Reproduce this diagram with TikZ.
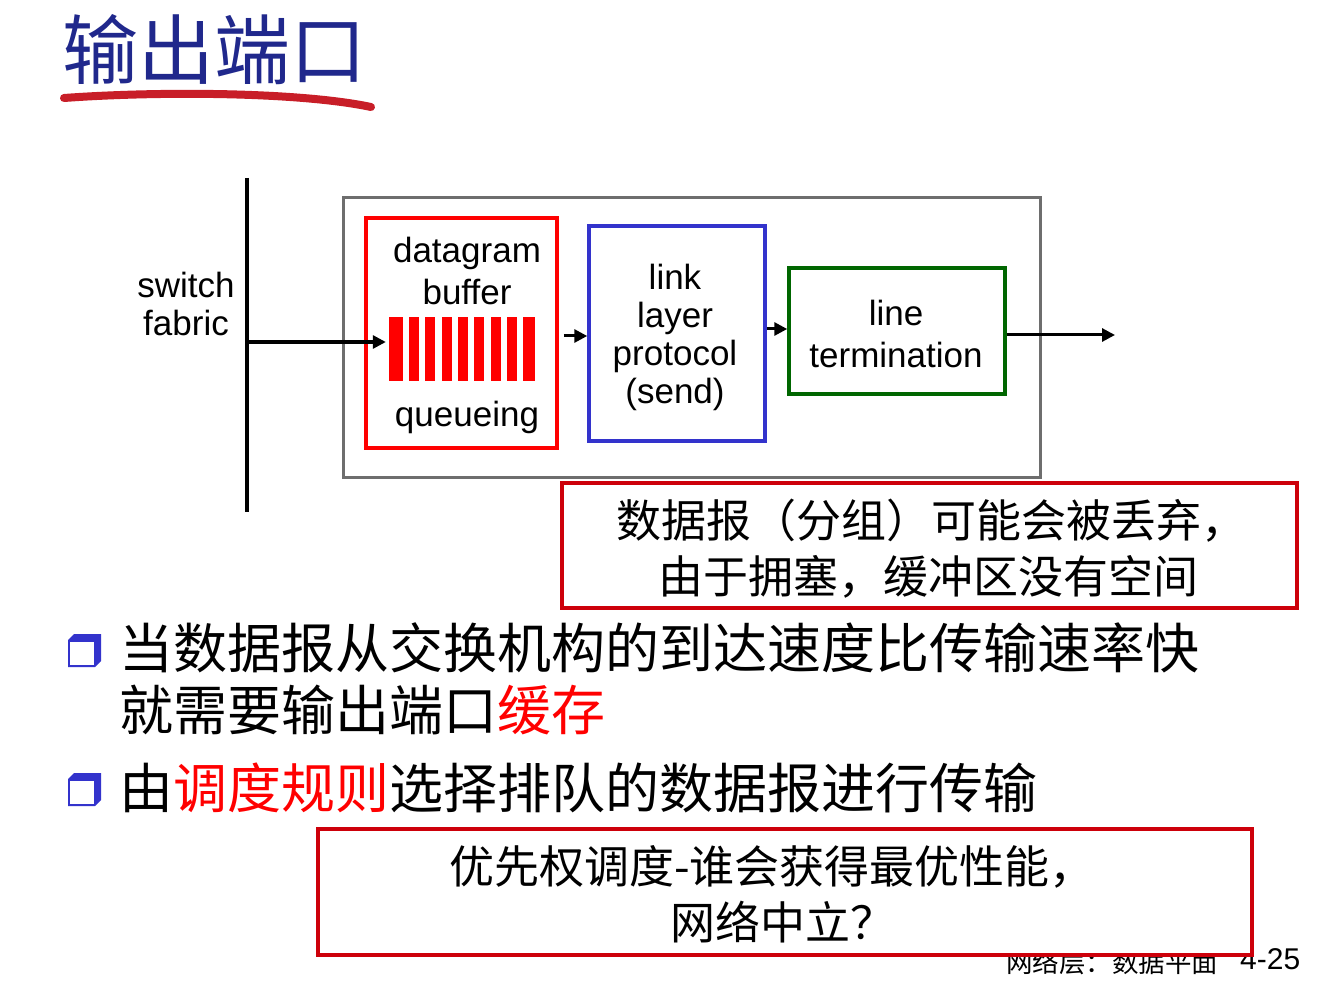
\documentclass[tikz,border=0pt]{standalone}
\usepackage{fontspec}
\setmainfont{Liberation Sans}
\newfontfamily\cjk{Noto Sans CJK SC}
\usetikzlibrary{arrows.meta}
\definecolor{titleblue}{RGB}{32,40,140}
\definecolor{brushred}{RGB}{200,30,40}
\definecolor{boxred}{RGB}{255,0,0}
\definecolor{calloutred}{RGB}{205,0,10}
\definecolor{linkblue}{RGB}{51,51,204}
\definecolor{termgreen}{RGB}{0,102,0}
\definecolor{outergray}{RGB}{110,110,110}
\tikzset{
  box/.style={draw, line width=3.5pt, inner sep=0pt, fill=white},
  lbl/.style={font=\fontsize{35}{42}\selectfont, align=center, inner sep=0pt},
  lbltight/.style={font=\fontsize{35}{38}\selectfont, align=center, inner sep=0pt},
  arr/.style={line width=3pt, -{Triangle[length=13pt,width=13pt]}},
  cjktext/.style={font=\cjk\fontsize{45}{56}\selectfont, inner sep=0pt},
  bullettext/.style={font=\cjk\fontsize{54}{62}\selectfont, anchor=west, inner sep=0pt},
}
\begin{document}
\begin{tikzpicture}[x=1pt,y=-1pt]
\useasboundingbox (0,0) rectangle (1320,984);
% title
\node[font=\cjk\fontsize{76}{80}\selectfont, text=titleblue, inner sep=0pt] (title) at (214,50) {输出端口};
\draw[brushred, line width=8pt, line cap=round] (64,98) .. controls (160,91) and (300,92) .. (371,107);
% footer
\node[font=\cjk\fontsize{26.5}{30}\selectfont, inner sep=0pt] (foot) at (1112,962) {网络层：数据平面};
\node[font=\fontsize{30}{32}\selectfont, anchor=west, inner sep=0pt] (page) at (1240,959) {4-25};
% switch fabric
\coordinate (ftop) at (247,178);
\coordinate (fbot) at (247,512);
\coordinate (fab) at (247,342);
\draw[line width=4pt] (ftop) -- (fbot);
\node[lbltight] (swf) at (186,304) {switch\\fabric};
% outer gray box
\node[box, draw=outergray, line width=3pt, fill=none, minimum width=697pt, minimum height=279pt] (outer) at (691.5,337.5) {};
% datagram buffer box
\node[box, draw=boxred, minimum width=191pt, minimum height=230pt] (buf) at (461.5,333) {};
\node[lbl] (buftxt) at (467,271) {datagram\\buffer};
\node[lbl] (queue) at (467,417) {queueing};
\node[inner sep=0pt, minimum width=146pt, minimum height=64pt] (bars) at (462,349) {};
\fill[boxred] (389,317) rectangle (403,381);
\foreach \i in {0,...,6} {
  \fill[boxred] ({409+16.3*\i},317) rectangle ({419+16.3*\i},381);
}
\fill[boxred] (523,317) rectangle (535,381);
% link layer box
\node[box, draw=linkblue, minimum width=176pt, minimum height=215pt] (link) at (677,333.5) {};
\node[lbltight] (linktxt) at (675,337) {link\\layer\\protocol\\(send)};
% line termination box
\node[box, draw=termgreen, minimum width=216pt, minimum height=126pt] (term) at (897,331) {};
\node[lbl] (termtxt) at (896,334) {line\\termination};
\coordinate (out) at (1115,335);
% arrows
\draw[arr] (fab) -- ([xshift=-3pt]bars.west |- fab);
\draw[arr] ([xshift=5pt]buf.east |- 0,336) -- (link.west |- 0,336);
\draw[arr] (link.east |- 0,329) -- (term.west |- 0,329);
\draw[arr] (term.east |- out) -- (out);
% callout 1
\node[box, draw=calloutred, line width=4pt, minimum width=735pt, minimum height=125pt] (call1) at (929.5,545.5) {};
\node[cjktext] (call1a) at (931,521) {数据报（分组）可能会被丢弃，};
\node[cjktext] (call1b) at (928,577) {由于拥塞，缓冲区没有空间};
% bullets
\fill[linkblue] (68,640) -- (74,634) -- (101,634) -- (101,661) -- (95,667) -- (68,667) -- cycle;
\node[fill=white, inner sep=0pt, minimum width=24pt, minimum height=23pt] (b1) at (82,653.5) {};
\node[bullettext] (t1) at (119,648) {当数据报从交换机构的到达速度比传输速率快};
\node[bullettext] (t1b) at (119,710) {就需要输出端口\textcolor{boxred}{缓存}};
\fill[linkblue] (68,779) -- (74,773) -- (101,773) -- (101,800) -- (95,806) -- (68,806) -- cycle;
\node[fill=white, inner sep=0pt, minimum width=24pt, minimum height=23pt] (b2) at (82,792.5) {};
\node[bullettext] (t2) at (119,788) {由\textcolor{boxred}{调度规则}选择排队的数据报进行传输};
% callout 2
\node[box, draw=calloutred, line width=4pt, minimum width=934pt, minimum height=126pt] (call2) at (785,892) {};
\node[cjktext] (call2a) at (772,867) {优先权调度-谁会获得最优性能，};
\node[cjktext] (call2b) at (783,922) {网络中立？};
\end{tikzpicture}
\end{document}
